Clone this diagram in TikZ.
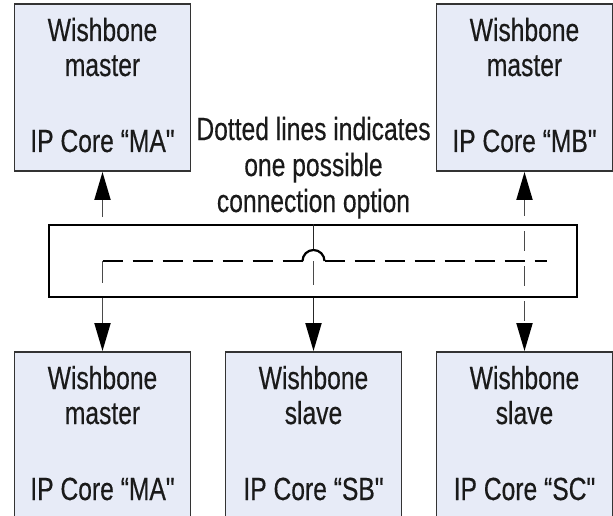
\documentclass[tikz,border=0pt]{standalone}
\usepackage{fontspec}
\setmainfont{Liberation Sans}
\newfontfamily\labfont[FakeStretch=0.77,FakeBold=0.4]{Liberation Sans}
\usetikzlibrary{arrows.meta,calc}
\definecolor{boxfill}{HTML}{E7EBF7}
\definecolor{boxline}{HTML}{333333}
\definecolor{connc}{HTML}{4A4A4A}
\definecolor{textc}{HTML}{1A1A1A}
\tikzset{
  wbbox/.style={draw=boxline, line width=1.9pt, fill=boxfill, minimum width=176pt, minimum height=167pt, inner sep=0pt},
  busbox/.style={draw=black, line width=1.9pt, minimum width=528pt, minimum height=72pt, inner sep=0pt},
  lab/.style={font=\labfont\fontsize{32}{38}\selectfont, text=textc, anchor=base, inner sep=0pt},
  tipend/.style={-{Triangle[length=28pt,width=16pt,color=black]}},
  tipboth/.style={{Triangle[length=28pt,width=16pt,color=black]}-{Triangle[length=28pt,width=16pt,color=black]}},
  conn/.style={draw=connc, line width=1.9pt},
  solidc/.style={draw=black!85, line width=1.9pt},
  optline/.style={draw=black, line width=2.8pt, dash pattern=on 20pt off 10pt},
}
\begin{document}
\begin{tikzpicture}[x=1pt,y=-1pt]
\useasboundingbox (0,0) rectangle (613,516);
\clip (0,0) rectangle (613,516);

% boxes
\node[wbbox] (tma) at (102.5,87.5) {};
\node[wbbox] (tmb) at (524.5,87.5) {};
\node[wbbox] (bma) at (102.5,435.5) {};
\node[wbbox] (bsb) at (313.5,435.5) {};
\node[wbbox] (bsc) at (524.5,435.5) {};
\node[busbox] (bus) at (312.7,261) {};

% box texts
\foreach \n/\x/\t/\r/\c in {tma/102.5/4/master/MA, tmb/524.5/4/master/MB, bma/102.5/352/master/MA, bsb/313.5/352/slave/SB, bsc/524.5/352/slave/SC}{
  \node[lab] (\n-l1) at (\x,\t+37) {Wishbone};
  \node[lab] (\n-l2) at (\x,\t+72) {\r};
  \node[lab] (\n-l3) at (\x,\t+148) {IP Core “\c"};
}

% note
\node[lab] (note1) at (313.5,140) {Dotted lines indicates};
\node[lab] (note2) at (313.5,176) {one possible};
\node[lab] (note3) at (313.5,212) {connection option};

% helper coordinates
\coordinate (corner) at (bus.center -| bma.north);
\coordinate (cx) at (bus.center -| bsb.north);
\coordinate (hl) at ($(cx)+(-11,0)$);
\coordinate (hr) at ($(cx)+(11,0)$);
\coordinate (htop) at ($(cx)+(0,-11)$);
\coordinate (rend) at ($(bus.center -| bsc.north)+(22,0)$);

% top-left arrow (dashed)
\draw[conn, tipend, dash pattern=on 20pt off 10pt, dash phase=23pt] (bus.north -| tma.south) -- (tma.south);
% left vertical inside bus
\draw[conn, dash pattern=on 22pt off 100pt] (corner) -- (bus.south -| bma.north);
% bottom-left arrow
\draw[conn, tipend] (bus.south -| bma.north) -- (bma.north);

% centre line
\draw[solidc] (bus.north -| cx) -- (htop);
\draw[conn, dash pattern=on 24pt off 100pt] (cx) -- (bus.south -| cx);
\draw[solidc, tipend] (bus.south -| bsb.north) -- (bsb.north);

% right dashed double arrow
\draw[conn, tipboth, dash pattern=on 20pt off 15pt, dash phase=3pt] (tmb.south) -- (bsc.north);

% dashed connection option
\draw[optline] (corner) -- (hl);
\draw[draw=black, line width=2.2pt] (hl) arc[start angle=180, end angle=0, radius=11pt];
\draw[optline] (hr) -- (rend);
\end{tikzpicture}
\end{document}
